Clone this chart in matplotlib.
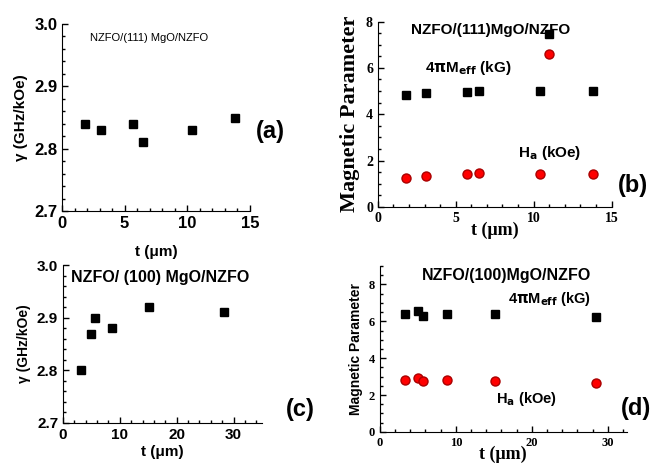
import matplotlib
matplotlib.use("Agg")
import matplotlib.pyplot as plt

# (a) NZFO/(111) MgO/NZFO gyromagnetic ratio
t_a = [1.8, 3.1, 5.7, 6.5, 10.4, 13.8]
g_a = [2.84, 2.83, 2.84, 2.81, 2.83, 2.85]

# (b) NZFO/(111)MgO/NZFO magnetic parameters
t_b = [1.8, 3.1, 5.7, 6.5, 10.4, 11.0, 13.8]
m_b = [4.85, 4.93, 4.98, 5.02, 5.02, 7.45, 5.02]
h_b = [1.25, 1.35, 1.42, 1.45, 1.42, 6.6, 1.42]

# (c) NZFO/(100) MgO/NZFO gyromagnetic ratio
t_c = [3.2, 4.9, 5.6, 8.7, 15.2, 28.4]
g_c = [2.80, 2.87, 2.90, 2.88, 2.92, 2.91]

# (d) NZFO/(100)MgO/NZFO magnetic parameters
t_d = [3.3, 5.0, 5.7, 8.8, 15.2, 28.4]
m_d = [6.42, 6.55, 6.30, 6.38, 6.38, 6.25]
h_d = [2.82, 2.95, 2.78, 2.82, 2.78, 2.68]

xt_ab = [0, 5, 10, 15]
xt_cd = [0, 10, 20, 30]
yt_ac = [2.7, 2.8, 2.9, 3.0]
yt_bd = [0, 2, 4, 6, 8]

sans = "Liberation Sans"
serif = "Liberation Serif"

plt.rcParams["font.weight"] = "bold"
plt.rcParams["axes.labelweight"] = "bold"
plt.rcParams["mathtext.default"] = "bf"

fig = plt.figure(figsize=(6.64, 4.70), dpi=100)


def style(ax, xt, yt, yfmt, family, size):
    ax.spines["top"].set_visible(False)
    ax.spines["right"].set_visible(False)
    ax.minorticks_on()
    ax.tick_params(direction="in", which="both", length=4, width=1)
    ax.tick_params(which="minor", length=2.5)
    ax.set_xticks(xt, [str(v) for v in xt], family=family, fontweight="bold", fontsize=size)
    ax.set_yticks(yt, [yfmt % v for v in yt], family=family, fontweight="bold", fontsize=size)


# panel (a)
ax = fig.add_axes([0.0934, 0.551, 0.283, 0.398])
ax.plot(t_a, g_a, "s", color="black", ms=6)
ax.set_xlim(0, 15)
ax.set_ylim(2.7, 3.0)
style(ax, xt_ab, yt_ac, "%.1f", sans, 12)
ax.set_ylabel("γ (GHz/kOe)", family=sans, fontsize=11, labelpad=4)
ax.set_xlabel("t (μm)", family=sans, fontsize=11, labelpad=10)
ax.text(0.15, 0.95, "NZFO/(111) MgO/NZFO", transform=ax.transAxes, family=sans,
        fontweight="normal", fontsize=8, va="top")
fig.text(0.385, 0.72, "(a)", family=sans, fontsize=17, va="center")

# panel (b)
ax = fig.add_axes([0.569, 0.560, 0.352, 0.394])
ax.plot(t_b, m_b, "s", color="black", ms=6)
ax.plot(t_b, h_b, "o", color="red", mec="#aa0000", ms=6.5)
ax.set_xlim(0, 15)
ax.set_ylim(0, 8)
style(ax, xt_ab, yt_bd, "%d", serif, 10)
ax.set_ylabel("Magnetic Parameter", family=serif, fontsize=16, labelpad=4)
ax.set_xlabel("t (μm)", family=serif, fontsize=13, labelpad=-2)
ax.text(0.14, 0.99, "NZFO/(111)MgO/NZFO", transform=ax.transAxes, family=sans,
        fontsize=11, va="top")
ax.text(0.2, 0.75, r"4$\pi$M$_{eff}$ (kG)", transform=ax.transAxes, family=sans,
        fontsize=11, va="center")
ax.text(0.6, 0.29, r"H$_{a}$ (kOe)", transform=ax.transAxes, family=sans,
        fontsize=11, va="center")
fig.text(0.93, 0.605, "(b)", family=sans, fontsize=17, va="center")

# panel (c)
ax = fig.add_axes([0.0949, 0.100, 0.2997, 0.336])
ax.plot(t_c, g_c, "s", color="black", ms=6)
ax.set_xlim(0, 35)
ax.set_ylim(2.7, 3.0)
style(ax, xt_cd, yt_ac, "%.1f", sans, 11)
ax.set_ylabel("γ (GHz/kOe)", family=sans, fontsize=10, labelpad=4)
ax.set_xlabel("t (μm)", family=sans, fontsize=11, labelpad=2)
ax.text(0.04, 0.97, "NZFO/ (100) MgO/NZFO", transform=ax.transAxes, family=sans,
        fontsize=11.5, va="top")
fig.text(0.43, 0.128, "(c)", family=sans, fontsize=17, va="center")

# panel (d)
ax = fig.add_axes([0.572, 0.081, 0.372, 0.353])
ax.plot(t_d, m_d, "s", color="black", ms=6)
ax.plot(t_d, h_d, "o", color="red", mec="#aa0000", ms=6.5)
ax.set_xlim(0, 32.5)
ax.set_ylim(0, 9)
style(ax, xt_cd, yt_bd, "%d", serif, 9)
ax.set_ylabel("Magnetic Parameter", family=sans, fontsize=10, labelpad=4)
ax.set_xlabel("t (μm)", family=serif, fontsize=13, labelpad=-2)
ax.text(0.17, 0.99, "NZFO/(100)MgO/NZFO", transform=ax.transAxes, family=sans,
        fontsize=11.5, va="top")
ax.text(0.52, 0.8, r"4$\pi$M$_{eff}$ (kG)", transform=ax.transAxes, family=sans,
        fontsize=10.5, va="center")
ax.text(0.47, 0.2, r"H$_{a}$ (kOe)", transform=ax.transAxes, family=sans,
        fontsize=10.5, va="center")
fig.text(0.935, 0.13, "(d)", family=sans, fontsize=17, va="center")

fig.savefig("out.png", dpi=100)
